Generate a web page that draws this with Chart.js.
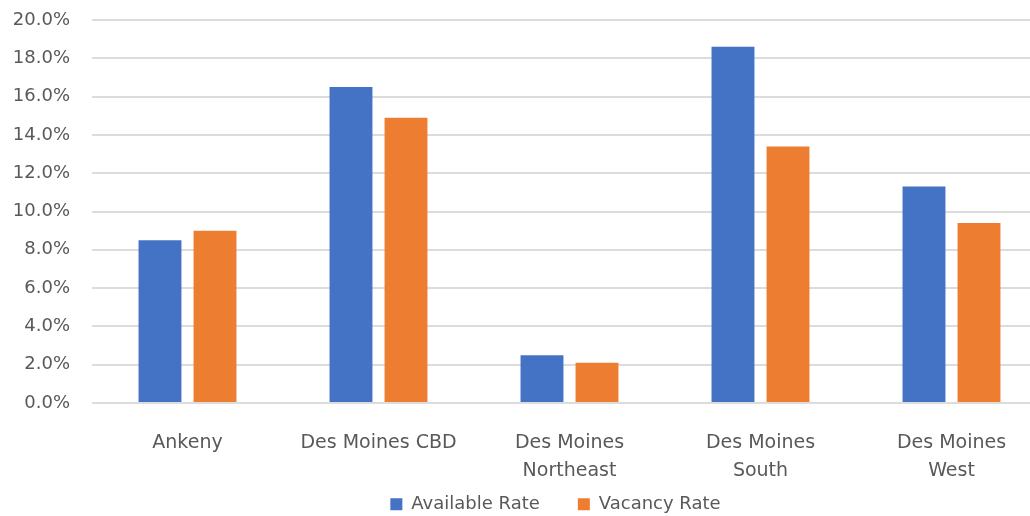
<!DOCTYPE html>
<html>
<head>
<meta charset="utf-8">
<script src="https://cdn.jsdelivr.net/npm/chart.js@4/dist/chart.umd.min.js"></script>
<style>
  html, body { margin: 0; padding: 0; background: #ffffff; overflow: hidden; width: 1030px; height: 516px; }
  #wrap { position: relative; width: 1048px; height: 516px; }
</style>
</head>
<body>
<div id="wrap"><canvas id="c" width="1048" height="516"></canvas></div>
<script>
// Office submarkets and their rates (percent)
const submarkets = ['Ankeny', 'Des Moines CBD', ['Des Moines', 'Northeast'], ['Des Moines', 'South'], ['Des Moines', 'West']];
const availableRate = [8.5, 16.5, 2.5, 18.6, 11.3];
const vacancyRate = [9.0, 14.9, 2.1, 13.4, 9.4];
const seriesNames = ['Available Rate', 'Vacancy Rate'];
const yMin = 0, yMax = 20, yStep = 2;

const BLUE = '#4472C4';
const ORANGE = '#ED7D31';
const TEXT = '#595959';
const GRID = '#dcdcdc';
const FONT = "'DejaVu Sans', sans-serif";
const LEGEND_PAD = 38;
const LEGEND_FONT = 18;

// reserves a fixed strip for the legend and places its row inside it
const legendPlace = {
  id: 'legendPlace',
  beforeLayout(chart, args, opts) {
    const lg = chart.legend;
    if (lg && !lg.__fixed) {
      const fit = lg.fit;
      lg.fit = function () { fit.call(this); this.height = opts.height; };
      lg.__fixed = true;
    }
  },
  afterLayout(chart, args, opts) {
    const lg = chart.legend;
    if (!lg) return;
    const itemH = LEGEND_FONT * 1.2;
    lg.top = opts.rowCenter - LEGEND_PAD - itemH / 2;
    lg.height = 2 * LEGEND_PAD + itemH;
    lg.bottom = lg.top + lg.height;
    lg.left += opts.dx;
    lg.right += opts.dx;
  }
};

new Chart(document.getElementById('c'), {
  type: 'bar',
  data: {
    labels: submarkets,
    datasets: [
      { label: seriesNames[0], data: availableRate, backgroundColor: BLUE, borderWidth: 0 },
      { label: seriesNames[1], data: vacancyRate, backgroundColor: ORANGE, borderWidth: 0 }
    ]
  },
  options: {
    responsive: false,
    animation: false,
    devicePixelRatio: 1,
    layout: { padding: { top: 20, right: 1, left: 0, bottom: 0 } },
    datasets: { bar: { categoryPercentage: 0.576, barPercentage: 0.78 } },
    scales: {
      x: {
        grid: { display: false },
        border: { display: false },
        ticks: {
          color: TEXT,
          font: { family: FONT, size: 19, lineHeight: 1.47 },
          padding: 18,
          maxRotation: 0,
          autoSkip: false
        },
        afterFit(scale) { scale.height = 74; }
      },
      y: {
        min: yMin, max: yMax,
        border: { display: false },
        grid: { color: GRID, lineWidth: 2, drawTicks: false },
        ticks: {
          stepSize: yStep,
          color: TEXT,
          font: { family: FONT, size: 18 },
          padding: 22,
          callback: v => v.toFixed(1) + '%'
        },
        afterFit(scale) {
          scale.width = 92;
          scale.paddingTop = 0;
          scale.paddingBottom = 0;
        }
      }
    },
    plugins: {
      legendPlace: { height: 39, rowCenter: 506, dx: 32 },
      tooltip: { enabled: false },
      legend: {
        position: 'bottom',
        labels: {
          color: TEXT,
          font: { family: FONT, size: LEGEND_FONT },
          boxWidth: 12,
          boxHeight: 12,
          padding: LEGEND_PAD
        }
      }
    }
  },
  plugins: [legendPlace]
});
</script>
</body>
</html>
